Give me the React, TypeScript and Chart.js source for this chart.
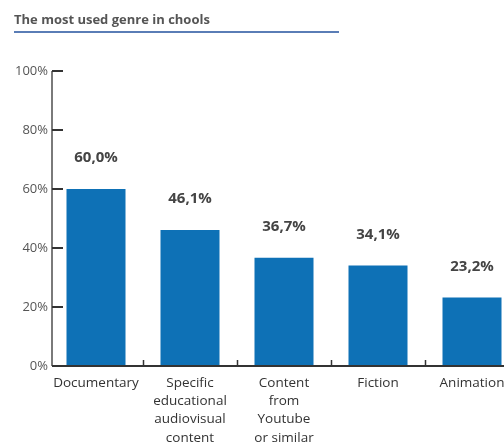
import React, { useEffect, useRef } from "react";
import { Chart, registerables } from "chart.js";

Chart.register(...registerables);

const categories: string[][] = [
  ["Documentary"],
  ["Specific", "educational", "audiovisual", "content"],
  ["Content", "from", "Youtube", "or similar"],
  ["Fiction"],
  ["Animation"],
];
const values: number[] = [60.0, 46.1, 36.7, 34.1, 23.2];
const yTicks: number[] = [0, 20, 40, 60, 80, 100];
const title = "The most used genre in chools";

const FONT = "'Open Sans', 'Noto Sans', sans-serif";

const customPlugin = {
  id: "custom",
  afterDatasetsDraw(chart: any) {
    const { ctx, chartArea, scales } = chart;
    const y = scales.y;
    const x = scales.x;
    const axisX = chartArea.left + 3;
    ctx.save();
    ctx.strokeStyle = "#7a7a7a";
    ctx.lineWidth = 2;
    ctx.beginPath();
    ctx.moveTo(axisX, y.getPixelForValue(100));
    ctx.lineTo(axisX, y.getPixelForValue(0));
    ctx.stroke();
    ctx.strokeStyle = "#333";
    ctx.lineWidth = 2;
    yTicks.forEach((v) => {
      const py = Math.round(y.getPixelForValue(v));
      ctx.beginPath();
      ctx.moveTo(axisX, py);
      ctx.lineTo(axisX + 11, py);
      ctx.stroke();
    });
    const by = Math.round(y.getPixelForValue(0));
    ctx.beginPath();
    ctx.moveTo(axisX, by);
    ctx.lineTo(chart.width, by);
    ctx.stroke();
    ctx.lineWidth = 1.5;
    for (let i = 0; i < values.length - 1; i++) {
      const px = Math.round((x.getPixelForValue(i) + x.getPixelForValue(i + 1)) / 2) + 0.5;
      ctx.beginPath();
      ctx.moveTo(px, by);
      ctx.lineTo(px, by - 6);
      ctx.stroke();
    }
    const meta = chart.getDatasetMeta(0);
    ctx.fillStyle = "#444";
    ctx.font = `bold 15px ${FONT}`;
    ctx.textAlign = "center";
    ctx.textBaseline = "middle";
    meta.data.forEach((bar: any, i: number) => {
      const label = values[i].toFixed(1).replace(".", ",") + "%";
      ctx.fillText(label, bar.x, bar.y - 31);
    });
    ctx.restore();
  },
};

export default function App() {
  const ref = useRef<HTMLCanvasElement>(null);
  useEffect(() => {
    if (!ref.current) return;
    const chart = new Chart(ref.current, {
      type: "bar",
      data: {
        labels: categories,
        datasets: [
          {
            data: values,
            backgroundColor: "#0e71b6",
            borderWidth: 0,
            barPercentage: 59 / 94,
            categoryPercentage: 1,
          },
        ],
      },
      options: {
        responsive: false,
        animation: false,
        layout: { padding: { left: 0, right: 11, top: 71, bottom: 0 } },
        plugins: { legend: { display: false }, tooltip: { enabled: false }, title: { display: false } },
        scales: {
          x: {
            grid: { display: false, drawTicks: false },
            border: { display: false },
            ticks: {
              color: "#333",
              font: { family: FONT, size: 13.5, lineHeight: 1.35 },
              padding: 8,
              maxRotation: 0,
              autoSkip: false,
            },
            afterFit: (s: any) => {
              s.height = 76;
            },
          },
          y: {
            min: 0,
            max: 100,
            grid: { display: false, drawTicks: false },
            border: { display: false },
            ticks: {
              stepSize: 20,
              color: "#555",
              font: { family: FONT, size: 13 },
              padding: 1,
              callback: (v: any) => v + "%",
            },
            afterFit: (s: any) => {
              s.width = 49;
            },
          },
        },
      },
      plugins: [customPlugin],
    });
    return () => chart.destroy();
  }, []);
  return (
    <div style={{ position: "fixed", left: 0, top: 0, width: 504, height: 442, overflow: "hidden", background: "#fff" }}>
      <canvas ref={ref} width={530} height={442} style={{ position: "absolute", left: 0, top: 0, width: 530, height: 442 }} />
      <div
        style={{
          position: "absolute",
          left: 14,
          top: 10,
          fontFamily: FONT,
          fontWeight: "bold",
          fontSize: 13,
          color: "#555",
          lineHeight: "18px",
          whiteSpace: "nowrap",
        }}
      >
        {title}
      </div>
      <div style={{ position: "absolute", left: 14, top: 31, width: 325, height: 2, background: "#5a7db6" }} />
    </div>
  );
}
